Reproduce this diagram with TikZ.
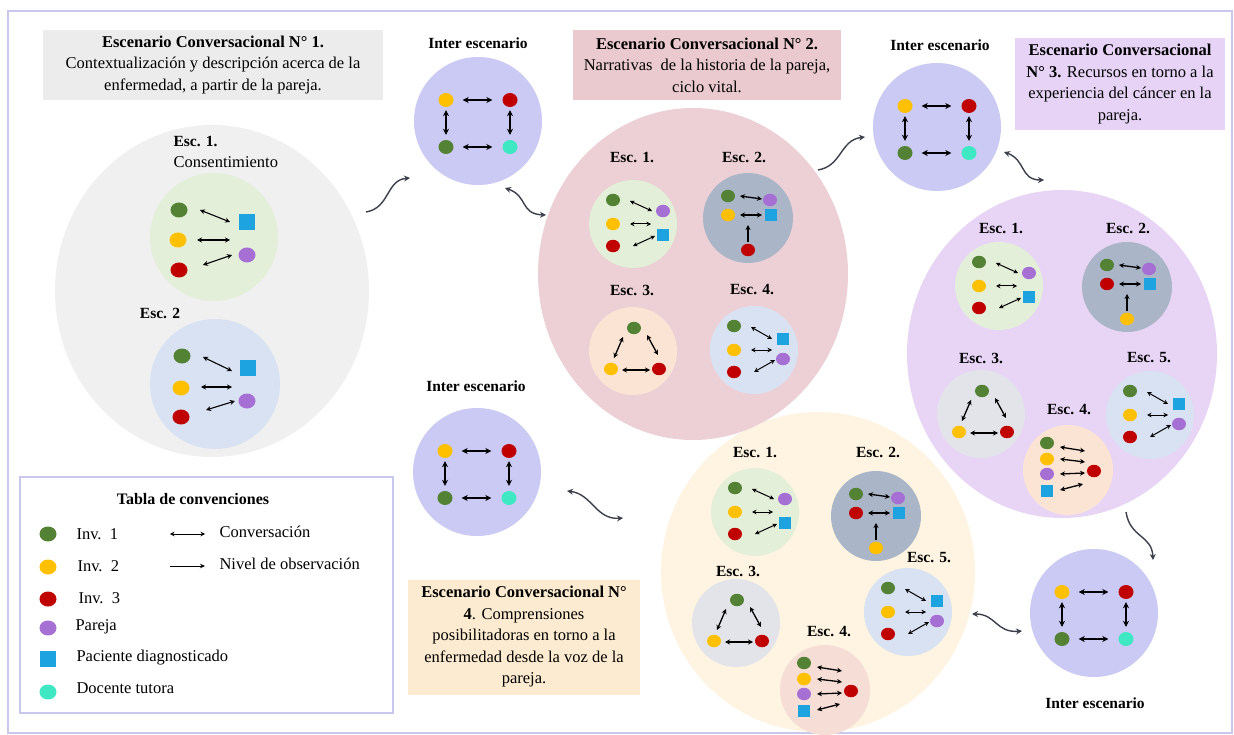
\documentclass[tikz,border=0pt]{standalone}
\usepackage{fontspec}
\setmainfont{Liberation Serif}
\usetikzlibrary{arrows.meta,shapes.geometric,calc}
\definecolor{cGreen}{HTML}{548235}
\definecolor{cYel}{HTML}{FFC000}
\definecolor{cRed}{HTML}{C00000}
\definecolor{cPur}{HTML}{A66FD3}
\definecolor{cBlue}{HTML}{1CA3E0}
\definecolor{cCyan}{HTML}{3DE8C3}
\definecolor{bgGray}{HTML}{F0F0F0}
\definecolor{bgGreen}{HTML}{E3EFD9}
\definecolor{bgBlue}{HTML}{D9E2F3}
\definecolor{bgInter}{HTML}{CACAF4}
\definecolor{bgPink}{HTML}{ECD0D6}
\definecolor{bgSlate}{HTML}{AAB5C8}
\definecolor{bgPurple}{HTML}{E8D5F6}
\definecolor{bgYellow}{HTML}{FEF4E1}
\definecolor{bgPeach}{HTML}{FBE4D4}
\definecolor{bgRose}{HTML}{F6DDD6}
\definecolor{bgLgray}{HTML}{E3E3EA}
\definecolor{tGray}{HTML}{ECECEC}
\definecolor{tPink}{HTML}{EACACE}
\definecolor{tPurple}{HTML}{E6D3F6}
\definecolor{tYellow}{HTML}{FCEBD0}
\definecolor{cFrame}{HTML}{C8C8EC}
\definecolor{cCurve}{HTML}{3C3F4C}
\tikzset{
 dS/.style={ellipse,inner sep=0pt,minimum width=14pt,minimum height=12.5pt},
 dL/.style={ellipse,inner sep=0pt,minimum width=17pt,minimum height=15pt},
 dI/.style={ellipse,inner sep=0pt,minimum width=15pt,minimum height=14pt},
 qS/.style={rectangle,inner sep=0pt,minimum size=11.5pt,fill=cBlue},
 qL/.style={rectangle,inner sep=0pt,minimum size=16pt,fill=cBlue},
 cv/.style={{Stealth[length=4.5pt,width=4.5pt]}-{Stealth[length=4.5pt,width=4.5pt]},line width=1pt},
 cvB/.style={{Stealth[length=5pt,width=5pt]}-{Stealth[length=5pt,width=5pt]},line width=1.3pt},
 ob/.style={-{Stealth[length=5pt,width=5pt]},line width=1.2pt},
 cvI/.style={{Stealth[length=6pt,width=6pt]}-{Stealth[length=6pt,width=6pt]},line width=1.5pt},
 lab/.style={font=\fontsize{15.5}{18}\selectfont\bfseries},
 txt/.style={font=\fontsize{16.5}{21.5}\selectfont},
 curv/.style={draw=cCurve,line width=1.4pt},
 curvA/.style={curv,-{Stealth[length=6pt,width=6pt]}},
 curvB/.style={curv,{Stealth[length=6pt,width=6pt]}-{Stealth[length=6pt,width=6pt]}},
 big/.style={ellipse,inner sep=0pt},
 sub/.style={circle,inner sep=0pt},
}
% fan scene: prefix, x, y, background, order (0 purple on top, 1 square on top)
\newcommand{\scA}[5]{%
\begin{scope}[shift={(#2,#3)}]
\node[sub,minimum size=88pt,fill=#4] (#1c) at (0,0) {};
\node[dS,fill=cGreen] (#1g) at (-20,-24) {};
\node[dS,fill=cYel] (#1y) at (-20,0) {};
\node[dS,fill=cRed] (#1r) at (-20,22) {};
\ifnum#5=0\relax
\node[dS,fill=cPur] (#1t) at (30,-13) {};
\node[qS] (#1b) at (30,11) {};
\else
\node[qS] (#1t) at (29,-11) {};
\node[dS,fill=cPur] (#1b) at (29,9) {};
\fi
\end{scope}
\draw[cv] ($(#1g)+(17,1)$) -- ($(#1t)+(-11,0)$);
\draw[cv] ($(#1y)+(17,0)$) -- ($(#1y)+(38,0)$);
\draw[cv] ($(#1r)+(20,0)$) -- ($(#1b)+(-8,1)$);
}
% observation scene: prefix, x, y, middle colour, bottom colour
\newcommand{\scB}[5]{%
\begin{scope}[shift={(#2,#3)}]
\node[sub,minimum size=90pt,fill=bgSlate] (#1c) at (0,0) {};
\node[dS,fill=cGreen] (#1g) at (-20,-22) {};
\node[dS,fill=cPur] (#1p) at (22,-18) {};
\node[dS,fill=#4] (#1m) at (-20,-3) {};
\node[qS] (#1q) at (23,-3) {};
\node[dS,fill=#5] (#1b) at (0,32) {};
\end{scope}
\draw[cvB] ($(#1g)+(12,0)$) -- ($(#1p)+(-8,-1)$);
\draw[cvB] ($(#1m)+(12,0)$) -- ($(#1q)+(-9,0)$);
\draw[ob] ($(#1b)+(0,-8)$) -- ($(#1b)+(0,-25)$);
}
% triangle scene: prefix, x, y, background
\newcommand{\scC}[4]{%
\begin{scope}[shift={(#2,#3)}]
\node[sub,minimum size=88pt,fill=#4] (#1c) at (0,0) {};
\node[dS,fill=cGreen] (#1g) at (1,-23) {};
\node[dS,fill=cYel] (#1y) at (-22,18) {};
\node[dS,fill=cRed] (#1r) at (26,18) {};
\end{scope}
\draw[cvB] ($(#1g)+(-11,9)$) -- ($(#1y)+(3,-11)$);
\draw[cvB] ($(#1g)+(13,7)$) -- ($(#1r)+(-1,-14)$);
\draw[cvB] ($(#1y)+(11,1)$) -- ($(#1r)+(-9,1)$);
}
% four-to-one scene: prefix, x, y, background
\newcommand{\scD}[4]{%
\begin{scope}[shift={(#2,#3)}]
\node[sub,minimum size=90pt,fill=#4] (#1c) at (0,0) {};
\node[dS,fill=cGreen] (#1g) at (-21,-27) {};
\node[dS,fill=cYel] (#1y) at (-21,-11) {};
\node[dS,fill=cPur] (#1p) at (-21,4) {};
\node[qS] (#1q) at (-21,21) {};
\node[dS,fill=cRed] (#1r) at (26,1) {};
\end{scope}
\draw[cvB] ($(#1g)+(13,4)$) -- ($(#1g)+(38,8)$);
\draw[cvB] ($(#1y)+(13,0)$) -- ($(#1y)+(38,3)$);
\draw[cvB] ($(#1p)+(13,0)$) -- ($(#1p)+(38,-1)$);
\draw[cvB] ($(#1q)+(13,-1)$) -- ($(#1q)+(36,-7)$);
}
% inter scene: prefix, x, y
\newcommand{\scI}[3]{%
\begin{scope}[shift={(#2,#3)}]
\node[sub,minimum size=128pt,fill=bgInter] (#1c) at (0,0) {};
\node[dI,fill=cYel] (#1y) at (-32,-21) {};
\node[dI,fill=cRed] (#1r) at (32,-21) {};
\node[dI,fill=cGreen] (#1g) at (-32,26) {};
\node[dI,fill=cCyan] (#1t) at (32,26) {};
\end{scope}
\draw[cvI,shorten <=9pt,shorten >=10pt] (#1y) -- (#1r);
\draw[cvI,shorten <=9pt,shorten >=10pt] (#1g) -- (#1t);
\draw[cvI,shorten <=3pt,shorten >=5pt] (#1y) -- (#1g);
\draw[cvI,shorten <=3pt,shorten >=5pt] (#1r) -- (#1t);
}
\begin{document}
\begin{tikzpicture}[x=1pt,y=-1pt]
\useasboundingbox (0,0) rectangle (1234,735);
\fill[white] (0,0) rectangle (1234,735);
\draw[draw=cFrame,line width=2pt] (8,11) rectangle (1232,733);

% big scenario circles
\node[big,minimum width=314pt,minimum height=320pt,fill=bgYellow] (s4) at (818,572) {};
\node[big,minimum width=314pt,minimum height=332pt,fill=bgGray] (s1) at (212,291) {};
\node[big,minimum width=310pt,minimum height=332pt,fill=bgPink] (s2) at (693,274) {};
\node[big,minimum width=310pt,minimum height=328pt,fill=bgPurple] (s3) at (1062,354) {};

% title boxes
\node[txt,fill=tGray,minimum width=340pt,minimum height=70pt,align=center] (t1) at (213,65)
 {\textbf{Escenario Conversacional N° 1.}\\Contextualización y descripción acerca de la\\enfermedad, a partir de la pareja.};
\node[txt,fill=tPink,minimum width=268pt,minimum height=70pt,align=center] (t2) at (707,65)
 {\textbf{Escenario Conversacional N° 2.}\\Narrativas\ \ de la historia de la pareja,\\ciclo vital.};
\node[txt,fill=tPurple,minimum width=210pt,minimum height=92pt,align=center] (t3) at (1120,84)
 {\textbf{Escenario Conversacional}\\\textbf{N° 3.} Recursos en torno a la\\experiencia del cáncer en la\\pareja.};
\node[txt,fill=tYellow,minimum width=232pt,minimum height=115pt,align=center] (t4) at (524,637)
 {\textbf{Escenario Conversacional N°}\\\textbf{4}. Comprensiones\\posibilitadoras en torno a la\\enfermedad desde la voz de la\\pareja.};

% scenario 1
\node[lab,anchor=west] (e11) at (170,141) {Esc. 1.};
\node[txt,anchor=west] (e11b) at (170,162) {Consentimiento};
\node[sub,minimum size=128pt,fill=bgGreen] (a1c) at (214,237) {};
\node[dL,fill=cGreen] (a1g) at (179,210) {};
\node[dL,fill=cYel] (a1y) at (178,240) {};
\node[dL,fill=cRed] (a1r) at (179,270) {};
\node[qL] (a1q) at (247,222) {};
\node[dL,fill=cPur] (a1p) at (247,255) {};
\draw[cvB,line width=1.1pt] ($(a1g)+(21,0)$) -- ($(a1q)+(-17,0)$);
\draw[cvB,line width=1.1pt] ($(a1y)+(19,0)$) -- ($(a1y)+(52,0)$);
\draw[cvB,line width=1.1pt] ($(a1r)+(24,-5)$) -- ($(a1p)+(-15,0)$);

\node[lab] (e12) at (160,313) {Esc. 2};
\node[sub,minimum size=130pt,fill=bgBlue] (a2c) at (215,384) {};
\node[dL,fill=cGreen] (a2g) at (182,356) {};
\node[qL] (a2q) at (248,368) {};
\node[dL,fill=cYel] (a2y) at (181,388) {};
\node[dL,fill=cPur] (a2p) at (247,401) {};
\node[dL,fill=cRed] (a2r) at (181,417) {};
\draw[cvB,line width=1.1pt] ($(a2g)+(21,1)$) -- ($(a2q)+(-16,3)$);
\draw[cvB,line width=1.1pt] ($(a2y)+(20,-1)$) -- ($(a2y)+(51,-1)$);
\draw[cvB,line width=1.1pt] ($(a2r)+(25,-7)$) -- ($(a2p)+(-12,0)$);

% scenario 2
\node[lab] (e21) at (632,157) {Esc. 1.};
\node[lab] (e22) at (744,157) {Esc. 2.};
\node[lab] (e23) at (632,290) {Esc. 3.};
\node[lab] (e24) at (752,290) {Esc. 4.};
\scA{p1}{633}{224}{bgGreen}{0}
\scB{p2}{748}{218}{cYel}{cRed}
\scC{p3}{633}{351}{bgPeach}
\scA{p4}{754}{350}{bgBlue}{1}

% scenario 3
\node[lab] (e31) at (1001,228) {Esc. 1.};
\node[lab] (e32) at (1128,228) {Esc. 2.};
\node[lab] (e33) at (981,358) {Esc. 3.};
\node[lab] (e35) at (1149,358) {Esc. 5.};
\node[lab] (e34) at (1069,410) {Esc. 4.};
\scA{u1}{999}{286}{bgGreen}{0}
\scB{u2}{1127}{287}{cRed}{cYel}
\scC{u3}{981}{414}{bgLgray}
\scA{u5}{1150}{415}{bgBlue}{1}
\scD{u4}{1068}{470}{bgPeach}

% scenario 4
\node[lab] (e41) at (755,452) {Esc. 1.};
\node[lab] (e42) at (878,452) {Esc. 2.};
\node[lab] (e43) at (738,571) {Esc. 3.};
\node[lab] (e45) at (929,558) {Esc. 5.};
\node[lab] (e44) at (829,632) {Esc. 4.};
\scA{y1}{755}{512}{bgGreen}{0}
\scB{y2}{876}{516}{cRed}{cYel}
\scC{y3}{736}{623}{bgLgray}
\scA{y5}{908}{612}{bgBlue}{1}
\scD{y4}{825}{690}{bgRose}

% inter scenarios
\node[lab] (il1) at (478,43) {Inter escenario};
\scI{i1}{478}{121}
\node[lab] (il2) at (940,45) {Inter escenario};
\scI{i2}{937}{127}
\node[lab] (il4) at (476,386) {Inter escenario};
\scI{i4}{477}{472}
\node[lab] (il3) at (1095,703) {Inter escenario};
\scI{i3}{1094}{613}

% curved connectors
\coordinate (k1s) at (366,212); \coordinate (k1e) at (410,178);
\draw[curvA] (k1s) .. controls (390,208) and (386,180) .. (k1e);
\coordinate (k2s) at (505,188); \coordinate (k2e) at (546,215);
\draw[curvB] (k2s) .. controls (528,196) and (520,214) .. (k2e);
\coordinate (k3s) at (818,170); \coordinate (k3e) at (865,137);
\draw[curvA] (k3s) .. controls (842,166) and (840,140) .. (k3e);
\coordinate (k4s) at (1004,152); \coordinate (k4e) at (1044,180);
\draw[curvB] (k4s) .. controls (1026,160) and (1020,180) .. (k4e);
\coordinate (k5s) at (1126,512); \coordinate (k5e) at (1153,560);
\draw[curvA] (k5s) .. controls (1130,538) and (1152,535) .. (k5e);
\coordinate (k6s) at (972,614); \coordinate (k6e) at (1022,631);
\draw[curvB] (k6s) .. controls (996,614) and (996,633) .. (k6e);
\coordinate (k7s) at (567,491); \coordinate (k7e) at (623,518);
\draw[curvB] (k7s) .. controls (592,494) and (596,520) .. (k7e);

% legend
\node[draw=cFrame,line width=2pt,fill=white,minimum width=373pt,minimum height=236pt,inner sep=0pt] (leg) at (206.5,595) {};
\node[lab,font=\fontsize{16}{18}\selectfont\bfseries] (legt) at (193,499) {Tabla de convenciones};
\node[dL,fill=cGreen] (lg1) at (48,534) {};
\node[dL,fill=cYel] (lg2) at (48,567) {};
\node[dL,fill=cRed] (lg3) at (48,599) {};
\node[dL,fill=cPur] (lg4) at (48,628) {};
\node[qL] (lg5) at (48,659) {};
\node[dL,fill=cCyan] (lg6) at (48,692) {};
\node[txt,anchor=west] (lt1) at (73,534) {Inv.\ \ 1};
\node[txt,anchor=west] (lt2) at (74,566) {Inv.\ \ 2};
\node[txt,anchor=west] (lt3) at (75,598) {Inv.\ \ 3};
\node[txt,anchor=west] (lt4) at (72,627) {Pareja};
\node[txt,anchor=west] (lt5) at (73,658) {Paciente diagnosticado};
\node[txt,anchor=west] (lt6) at (73,688) {Docente tutora};
\coordinate (la1) at (170,534); \coordinate (la2) at (205,534);
\draw[cv,line width=1pt] (la1) -- (la2);
\coordinate (lb1) at (170,566); \coordinate (lb2) at (205,566);
\draw[-{Stealth[length=5pt,width=4.5pt]},line width=1pt] (lb1) -- (lb2);
\node[txt,anchor=west] (lc1) at (216,532) {Conversación};
\node[txt,anchor=west] (lc2) at (216,564) {Nivel de observación};
\end{tikzpicture}
\end{document}
